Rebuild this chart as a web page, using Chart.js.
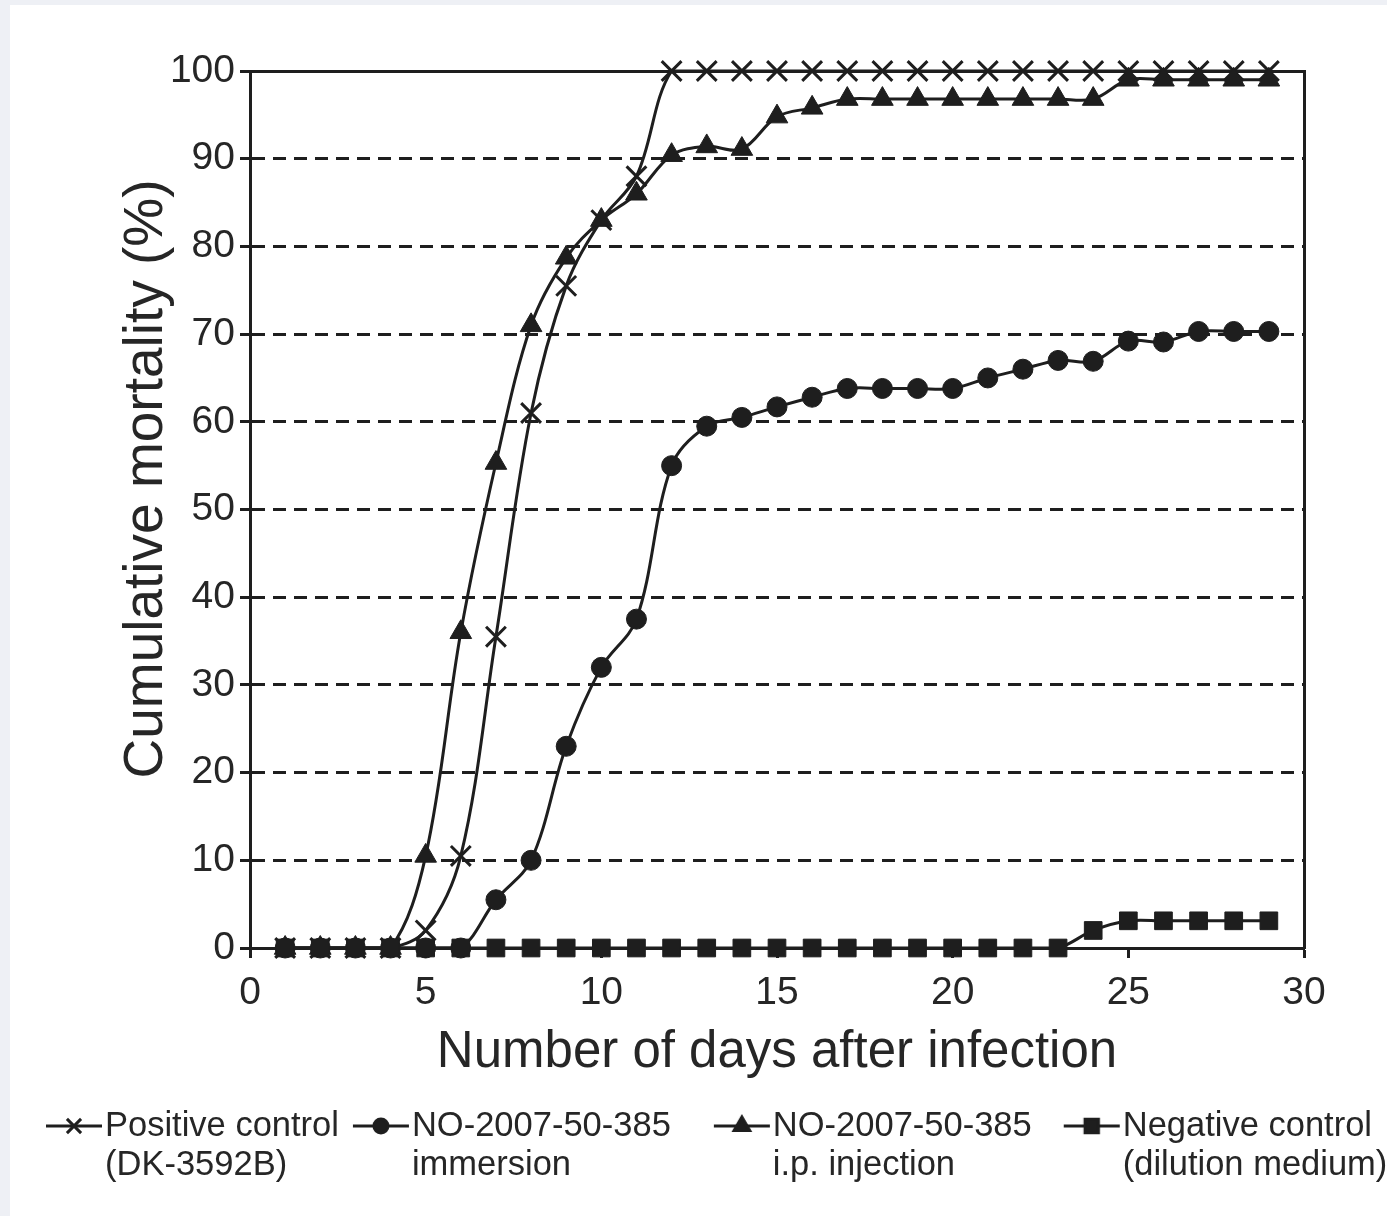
<!DOCTYPE html>
<html>
<head>
<meta charset="utf-8">
<script src="https://cdn.jsdelivr.net/npm/chart.js@4.4.1/dist/chart.umd.min.js"></script>
<style>
  html, body { margin: 0; padding: 0; background: #eef0f5; }
  #panel { position: absolute; left: 10px; top: 5px; width: 1377px; height: 1211px; background: #fff; }
</style>
</head>
<body>
<div id="panel"><canvas id="chart" width="1377" height="1211"></canvas></div>
<script>
// days after infection
const days = [1, 2, 3, 4, 5, 6, 7, 8, 9, 10, 11, 12, 13, 14, 15, 16, 17, 18, 19, 20, 21, 22, 23, 24, 25, 26, 27, 28, 29];

// cumulative mortality (%)
const positiveControl = [0, 0, 0, 0, 2, 10.5, 35.5, 61, 75.5, 83, 88, 100, 100, 100, 100, 100, 100, 100, 100, 100, 100, 100, 100, 100, 100, 100, 100, 100, 100];
const immersion = [0, 0, 0, 0, 0, 0, 5.5, 10, 23, 32, 37.5, 55, 59.5, 60.5, 61.7, 62.8, 63.8, 63.8, 63.8, 63.8, 65, 66, 67, 66.9, 69.2, 69.1, 70.3, 70.3, 70.3];
const injection = [0, 0, 0, 0, 10.5, 36, 55.3, 71, 78.7, 83, 86, 90.4, 91.4, 91.1, 94.8, 95.8, 96.8, 96.8, 96.8, 96.8, 96.8, 96.8, 96.8, 96.8, 99, 99, 99, 99, 99];
const negativeControl = [0, 0, 0, 0, 0, 0, 0, 0, 0, 0, 0, 0, 0, 0, 0, 0, 0, 0, 0, 0, 0, 0, 0, 2, 3.1, 3.1, 3.1, 3.1, 3.1];

const seriesNames = [
  ["Positive control", "(DK-3592B)"],
  ["NO-2007-50-385", "immersion"],
  ["NO-2007-50-385", "i.p. injection"],
  ["Negative control", "(dilution medium)"]
];
const xTicks = [0, 5, 10, 15, 20, 25, 30];
const yTicks = [0, 10, 20, 30, 40, 50, 60, 70, 80, 90, 100];

const ink = "#1e1e1e";
const textInk = "#262626";
const fontFamily = "'Liberation Sans', Arial, Helvetica, sans-serif";
Chart.defaults.font.family = fontFamily;

function toPoints(values) {
  return days.map((d, i) => ({ x: d, y: values[i] }));
}

function series(label, values, style, radius, order) {
  return {
    label: label.join(" "),
    data: toPoints(values),
    borderColor: ink,
    backgroundColor: ink,
    borderWidth: 3,
    tension: 0.35,
    clip: false,
    pointStyle: style,
    pointRadius: radius,
    pointBorderWidth: style === "crossRot" ? 3 : 1,
    pointBackgroundColor: ink,
    pointBorderColor: ink,
    order: order
  };
}

// legend glyph: short line with the marker on it
function legendIcon(style, radius) {
  const c = document.createElement("canvas");
  c.width = 58;
  c.height = 24;
  const ctx = c.getContext("2d");
  ctx.strokeStyle = ink;
  ctx.fillStyle = ink;
  ctx.lineWidth = 3;
  ctx.beginPath();
  ctx.moveTo(1, 12);
  ctx.lineTo(57, 12);
  ctx.stroke();
  Chart.helpers.drawPoint(ctx, { pointStyle: style, radius: radius, borderWidth: 2, rotation: 0 }, 29, 12);
  return c;
}

const styles = ["crossRot", "circle", "triangle", "rect"];
const iconSizes = [10, 7, 9, 9.5];
const icons = styles.map((s, i) => legendIcon(s, iconSizes[i]));

// two-line legend under the x axis
const bottomLegend = {
  id: "bottomLegend",
  afterDraw(chart) {
    const ctx = chart.ctx;
    ctx.save();
    ctx.font = "34.5px " + fontFamily;
    ctx.fillStyle = textInk;
    ctx.textAlign = "left";
    ctx.textBaseline = "middle";
    const iconW = 58, textGap = 2, lineH = 39;
    const gaps = [13, 42, 31];
    const widths = seriesNames.map(lines =>
      iconW + textGap + Math.max(...lines.map(l => ctx.measureText(l).width)));
    let x = 35;
    const y = chart.chartArea.bottom + 178;
    seriesNames.forEach((lines, i) => {
      ctx.drawImage(icons[i], x, y - icons[i].height / 2);
      lines.forEach((l, k) => ctx.fillText(l, x + iconW + textGap, y + k * lineH));
      x += widths[i] + (gaps[i] || 0);
    });
    ctx.restore();
  }
};

new Chart(document.getElementById("chart"), {
  type: "line",
  data: {
    datasets: [
      series(seriesNames[0], positiveControl, "crossRot", 14, 3),
      series(seriesNames[1], immersion, "circle", 10, 2),
      series(seriesNames[2], injection, "triangle", 12.5, 1),
      series(seriesNames[3], negativeControl, "rect", 12.5, 0)
    ]
  },
  plugins: [bottomLegend],
  options: {
    responsive: false,
    animation: false,
    layout: { padding: { left: 100, right: 83, top: 66, bottom: 128 } },
    plugins: {
      tooltip: { enabled: false },
      legend: { display: false }
    },
    scales: {
      x: {
        type: "linear",
        position: "bottom",
        min: 0,
        max: 30,
        afterBuildTicks: s => { s.ticks = xTicks.map(v => ({ value: v })); },
        afterFit: s => { s.height = 140; },
        ticks: { font: { size: 39 }, color: textInk, padding: 12, maxRotation: 0 },
        grid: { drawOnChartArea: false, drawTicks: true, tickLength: 10, tickWidth: 3, tickColor: ink },
        border: { display: true, width: 3, color: ink },
        title: {
          display: true,
          text: "Number of days after infection",
          font: { size: 51 },
          color: textInk,
          padding: { top: 0, bottom: 4 }
        }
      },
      y: {
        min: 0,
        max: 100,
        afterBuildTicks: s => { s.ticks = yTicks.map(v => ({ value: v })); },
        afterFit: s => { s.width = 140; },
        ticks: { font: { size: 39 }, color: textInk, padding: 5 },
        grid: { color: ink, lineWidth: 3, tickLength: 10, tickWidth: 3, tickColor: ink, tickBorderDash: [] },
        border: { display: true, width: 3, color: ink, dash: [13, 8] },
        title: {
          display: true,
          text: "    Cumulative mortality (%)",
          font: { size: 55 },
          color: textInk,
          padding: { top: 4, bottom: 0 }
        }
      },
      xTop: {
        type: "linear",
        position: "top",
        min: 0,
        max: 30,
        afterFit: s => { s.height = 0; },
        ticks: { display: false },
        grid: { display: false },
        border: { display: true, width: 3, color: ink }
      },
      yRight: {
        position: "right",
        min: 0,
        max: 100,
        afterFit: s => { s.width = 0; },
        ticks: { display: false },
        grid: { display: false },
        border: { display: true, width: 3, color: ink }
      }
    }
  }
});
</script>
</body>
</html>
